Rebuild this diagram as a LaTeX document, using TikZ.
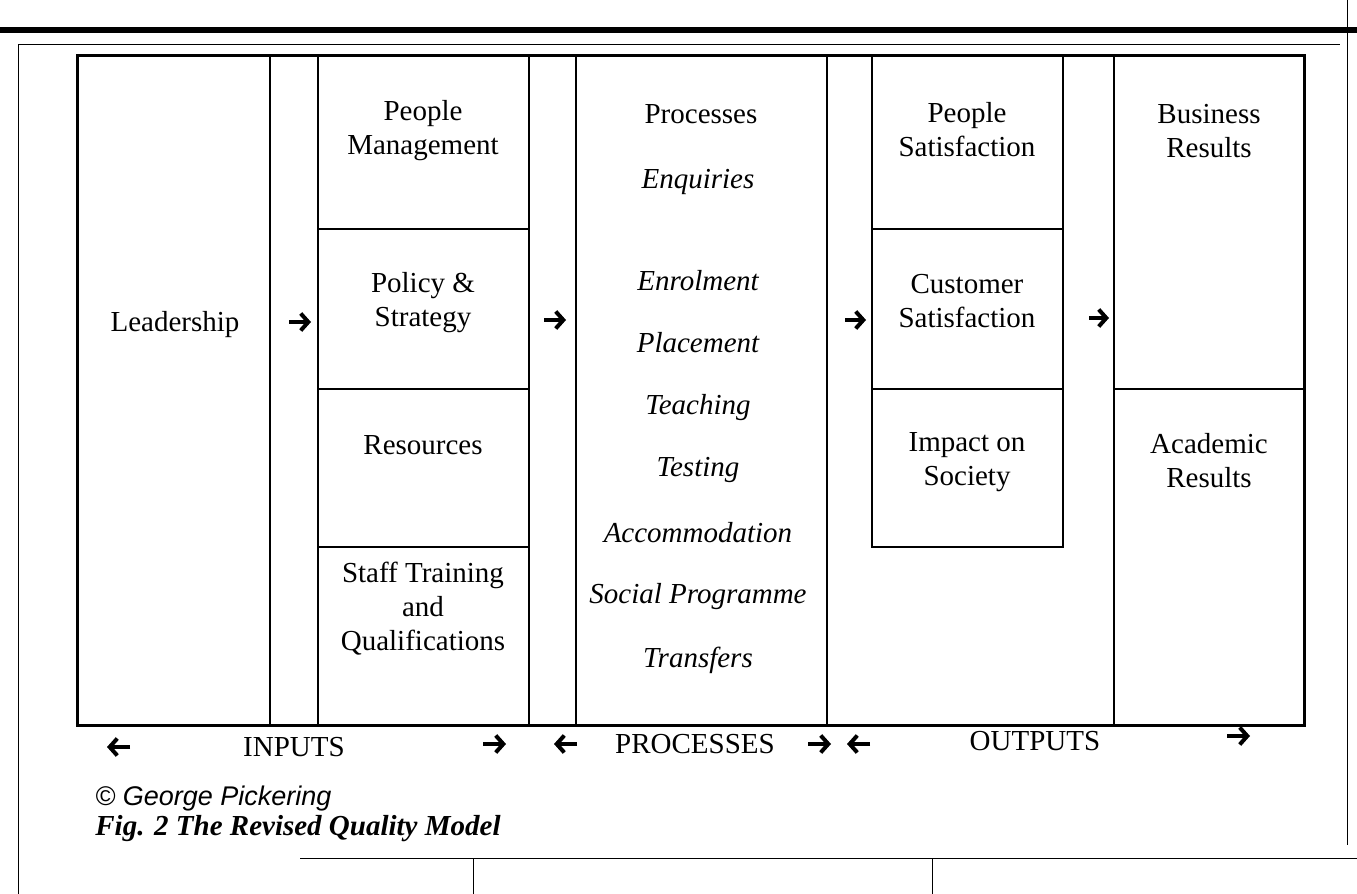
\documentclass[tikz,border=0pt]{standalone}
\usepackage{fontspec}
\setmainfont{Liberation Serif}
\setsansfont{Liberation Sans}
\usetikzlibrary{arrows.meta}
\tikzset{>=latex}
\tikzset{
  frame/.style={line width=1.5pt},
  divider/.style={line width=0.8pt},
  pageline/.style={line width=0.5pt},
  boxtext/.style={font=\fontsize{14.5}{17}\selectfont, align=center, inner sep=0pt},
  itemtext/.style={font=\fontsize{14.5}{17}\selectfont\itshape, inner sep=0pt},
  flowarr/.style={-{Straight Barb[length=3.8pt,width=8.5pt]}, line width=2pt},
}

\begin{document}
\begin{tikzpicture}[x=0.5pt, y=-0.5pt]
  \useasboundingbox (0,0) rectangle (1357,894);

  % page rules around the figure
  \draw[line width=2.6pt] (0,30) -- (1357,30);
  \draw[pageline] (18,44) -- (1340,44);
  \draw[pageline] (18,44) -- (18,894);
  \draw[pageline] (1347,0) -- (1347,845);
  \draw[pageline] (300,858) -- (1357,858);
  \draw[pageline] (473,858) -- (473,894);
  \draw[pageline] (932,858) -- (932,894);

  % outer frame
  \coordinate (TL) at (77,55);
  \coordinate (BR) at (1304,725);
  \draw[frame] (TL) rectangle (BR);

  % full height column lines
  \draw[divider] (270,55) -- (270,725);
  \draw[divider] (318,55) -- (318,725);
  \draw[divider] (529,55) -- (529,725);
  \draw[divider] (576,55) -- (576,725);
  \draw[divider] (827,55) -- (827,725);
  \draw[divider] (1114,55) -- (1114,725);

  % enablers column
  \draw[divider] (318,229) -- (529,229);
  \draw[divider] (318,389) -- (529,389);
  \draw[divider] (318,547) -- (529,547);

  % satisfaction column
  \draw[divider] (872,55) -- (872,547) -- (1063,547) -- (1063,55);
  \draw[divider] (872,229) -- (1063,229);
  \draw[divider] (872,389) -- (1063,389);

  % results column
  \draw[divider] (1114,389) -- (1304,389);

  % texts
  \node[boxtext] (lead) at (175,325) {Leadership};
  \node[boxtext] (peoplemgmt) at (423,131) {People\\Management};
  \node[boxtext] (policy) at (423,303) {Policy \&\\Strategy};
  \node[boxtext] (resources) at (423,445) {Resources};
  \node[boxtext] (training) at (423,609) {Staff Training\\and\\Qualifications};

  \node[boxtext] (processes) at (701,114) {Processes};
  \node[itemtext] (enquiries) at (698,182) {Enquiries};
  \node[itemtext] (enrolment) at (698,281) {Enrolment};
  \node[itemtext] (placement) at (698,343) {Placement};
  \node[itemtext] (teaching) at (698,408) {Teaching};
  \node[itemtext] (testing) at (698,470) {Testing};
  \node[itemtext] (accommodation) at (698,533) {Accommodation};
  \node[itemtext] (social) at (698,597) {Social Programme};
  \node[itemtext] (transfers) at (698,660) {Transfers};

  \node[boxtext] (peoplesat) at (967,130) {People\\Satisfaction};
  \node[boxtext] (custsat) at (967,301) {Customer\\Satisfaction};
  \node[boxtext] (impact) at (967,462) {Impact on\\Society};

  \node[boxtext] (business) at (1209,131) {Business\\Results};
  \node[boxtext] (academic) at (1209,461) {Academic\\Results};

  % flow arrows between columns
  \coordinate (g1a) at (289,322);
  \coordinate (g1b) at (311,322);
  \coordinate (g2a) at (544,320);
  \coordinate (g2b) at (566,320);
  \coordinate (g3a) at (845,320);
  \coordinate (g3b) at (866,320);
  \coordinate (g4a) at (1089,318);
  \coordinate (g4b) at (1109,318);
  \draw[flowarr] (g1a) -- (g1b);
  \draw[flowarr] (g2a) -- (g2b);
  \draw[flowarr] (g3a) -- (g3b);
  \draw[flowarr] (g4a) -- (g4b);

  % stage labels under the frame
  \node[boxtext] (inputs) at (294,747) {INPUTS};
  \node[boxtext] (procs) at (695,744) {PROCESSES};
  \node[boxtext] (outputs) at (1035,741) {OUTPUTS};

  \coordinate (b1a) at (130,747);
  \coordinate (b1b) at (107,747);
  \coordinate (b2a) at (483,744);
  \coordinate (b2b) at (506,744);
  \coordinate (b3a) at (577,744);
  \coordinate (b3b) at (554,744);
  \coordinate (b4a) at (808,744);
  \coordinate (b4b) at (831,744);
  \coordinate (b5a) at (870,744);
  \coordinate (b5b) at (847,744);
  \coordinate (b6a) at (1227,736);
  \coordinate (b6b) at (1250,736);
  \draw[flowarr] (b1a) -- (b1b);
  \draw[flowarr] (b2a) -- (b2b);
  \draw[flowarr] (b3a) -- (b3b);
  \draw[flowarr] (b4a) -- (b4b);
  \draw[flowarr] (b5a) -- (b5b);
  \draw[flowarr] (b6a) -- (b6b);

  % credit and caption
  \node[anchor=west, inner sep=0pt, font=\sffamily\itshape\fontsize{13.5}{16}\selectfont] (credit) at (95,799) {\textcopyright{} George Pickering};
  \node[anchor=west, inner sep=0pt, font=\bfseries\itshape\fontsize{14.5}{17}\selectfont] (caption) at (95,829) {Fig. 2 The Revised Quality Model};
\end{tikzpicture}
\end{document}
